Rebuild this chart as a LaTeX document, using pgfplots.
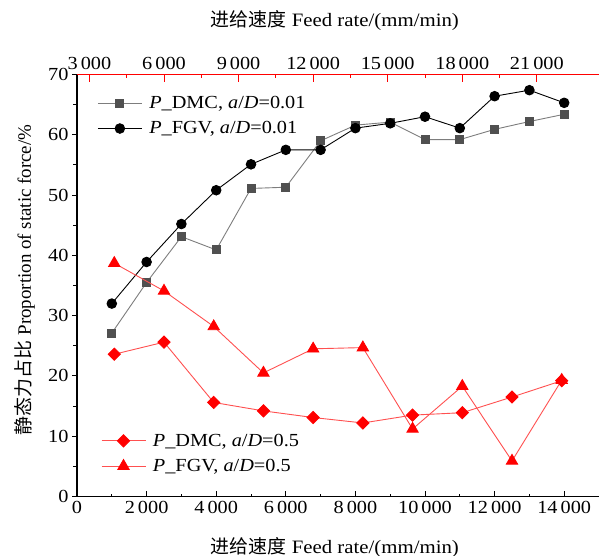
\documentclass[border=0pt]{standalone}
\usepackage{pgfplots}
\usepackage{pgfplotstable}
\pgfplotsset{compat=1.18}
\usepackage{fontspec}
\setmainfont{Liberation Serif}
\newfontfamily\wide{Liberation Serif}[FakeStretch=1.1]
\newfontfamily\cjk{Noto Sans CJK SC}

\definecolor{sqfill}{RGB}{80,80,80}
\definecolor{sqline}{RGB}{125,125,125}
\definecolor{redline}{RGB}{255,80,80}

% a/D = 0.01, plotted against the lower feed-rate axis
\pgfplotstableread{
x     dmc   fgv
1000  27.1  32.0
2000  35.5  38.9
3000  43.1  45.2
4000  40.9  50.8
5000  51.1  55.1
6000  51.3  57.5
7000  59.0  57.5
8000  61.6  61.1
9000  62.1  61.9
10000 59.2  63.0
11000 59.2  61.1
12000 60.9  66.4
13000 62.2  67.4
14000 63.4  65.3
}\smallcut

% a/D = 0.5, plotted against the upper feed-rate axis
\pgfplotstableread{
x     dmc   fgv
4000  23.6  38.7
6000  25.6  34.1
8000  15.6  28.2
10000 14.2  20.5
12000 13.1  24.5
14000 12.2  24.7
16000 13.5  11.2
18000 13.9  18.3
20000 16.5   5.9
22000 19.2  19.3
}\largecut

\pgfplotsset{
  base/.style={
    scale only axis, width=522bp, height=422bp,
    at={(0,0)}, anchor=south west,
    ymin=0, ymax=70,
    scaled ticks=false,
    /pgf/number format/assume math mode=true,
    /pgf/number format/1000 sep={\,},
    axis line style={line width=1.2bp,-},
    every tick/.style={line width=1bp},
    tick label style={font=\wide\fontsize{18.5}{20}\selectfont},
    label style={font=\wide\fontsize{19}{21}\selectfont},
    legend style={draw=none, fill=none, font=\wide\fontsize{18.5}{20}\selectfont,
      legend cell align=left, row sep=7.5bp},
    legend image code/.code={\draw[mark repeat=2,mark phase=2,##1]
      plot coordinates {(0bp,0bp) (22bp,0bp) (44bp,0bp)};
      \path (49bp,0bp);},
  },
}

\begin{document}
\begin{tikzpicture}
\useasboundingbox (-77bp,-59.5bp) rectangle (522bp,496.5bp);

% left value axis
\begin{axis}[base,
  xmin=0, xmax=15000,
  axis x line=none, axis y line*=left,
  ytick={0,10,...,70}, minor y tick num=1,
  tick align=outside, major tick length=5bp, minor tick length=4bp,
  ylabel={{\cjk 静态力占比} {\rmfamily Proportion of static force/\%}},
  ylabel style={at={(axis description cs:-0.100,0.513)}, anchor=center},
]
\end{axis}

% lower feed-rate axis with the a/D = 0.01 curves
\begin{axis}[base,
  xmin=0, xmax=15000,
  axis y line=none, axis x line*=bottom,
  xtick={0,2000,...,14000}, minor x tick num=1,
  tick align=inside, major tick length=6bp, minor tick length=3bp,
  xticklabel style={yshift=-1bp},
  xlabel={{\cjk 进给速度} Feed rate/(mm/min)},
  xlabel style={at={(axis description cs:0.494,-0.12)}, anchor=center},
  legend style={at={(axis description cs:0.033,0.958)}, anchor=north west},
]
\addplot[sqline, line width=0.9bp, mark=square*,
  mark options={fill=sqfill, draw=sqfill, mark size=4bp}]
  table[x=x, y=dmc] {\smallcut};
\addlegendentry{\textit{P}\_DMC, \textit{a}/\textit{D}=0.01}
\addplot[black, line width=0.9bp, mark=*,
  mark options={fill=black, mark size=4.8bp}]
  table[x=x, y=fgv] {\smallcut};
\addlegendentry{\textit{P}\_FGV, \textit{a}/\textit{D}=0.01}
\end{axis}

% upper feed-rate axis with the a/D = 0.5 curves
\begin{axis}[base,
  xmin=2500, xmax=23500,
  axis y line=none, axis x line*=top,
  axis line style={red},
  xtick={3000,6000,...,21000}, minor x tick num=1,
  tick align=inside, major tick length=8bp, minor tick length=4bp,
  every tick/.style={red, line width=1bp},
  xticklabel style={yshift=1bp},
  xlabel={{\cjk 进给速度} Feed rate/(mm/min)},
  xlabel style={at={(axis description cs:0.494,1.128)}, anchor=center},
  legend style={at={(axis description cs:0.040,0.158)}, anchor=north west},
]
\addplot[redline, line width=0.9bp, mark=square*,
  mark options={red, fill=red, rotate=45, mark size=4.3bp}]
  table[x=x, y=dmc] {\largecut};
\addlegendentry{\textit{P}\_DMC, \textit{a}/\textit{D}=0.5}
\addplot[redline, line width=0.9bp, mark=triangle*,
  mark options={red, fill=red, mark size=6.5bp}]
  table[x=x, y=fgv] {\largecut};
\addlegendentry{\textit{P}\_FGV, \textit{a}/\textit{D}=0.5}
\end{axis}
\end{tikzpicture}
\end{document}
